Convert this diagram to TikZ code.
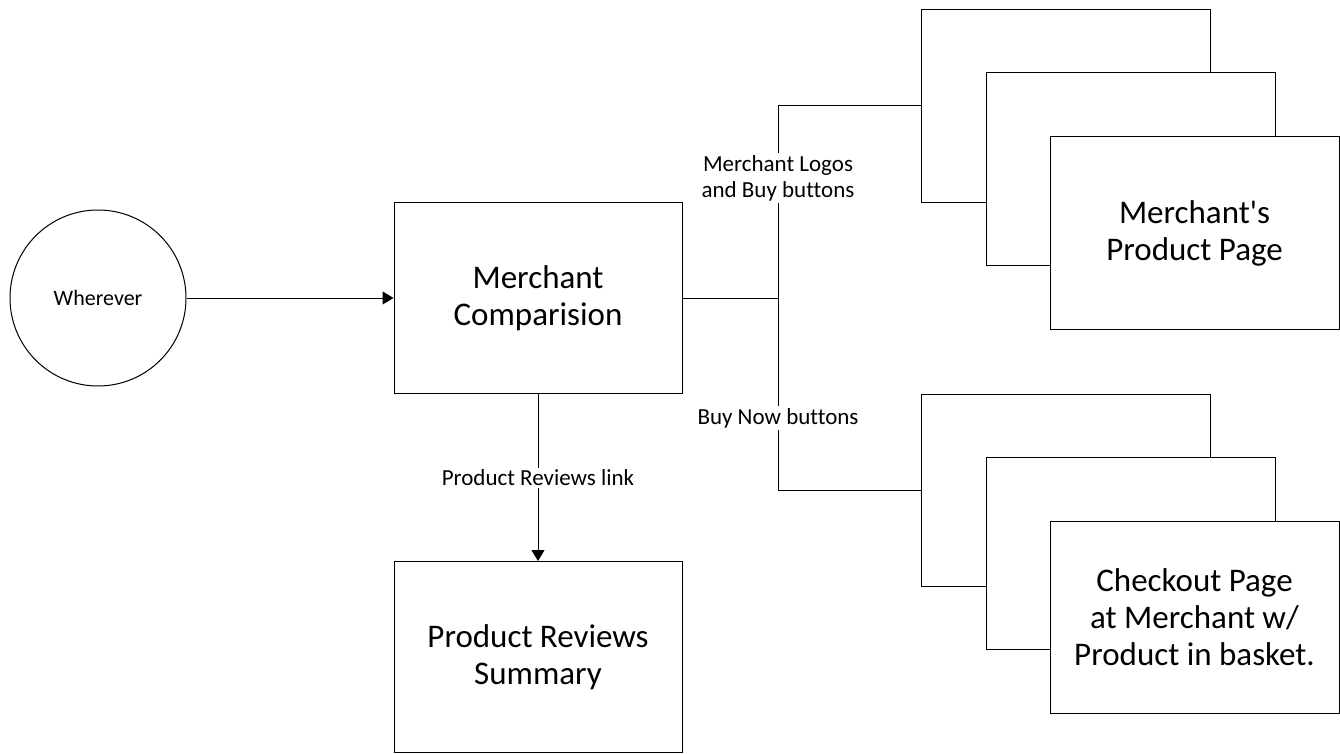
\documentclass[tikz,border=0pt]{standalone}
\usepackage{fontspec}
\setmainfont{Carlito}[Ligatures=NoCommon]
\usetikzlibrary{arrows.meta}
\begin{document}
\begin{tikzpicture}[x=1pt,y=-1pt,line width=1pt,
  box/.style={draw,fill=white,minimum width=288pt,minimum height=191pt,inner sep=0pt,align=center,font=\fontsize{33}{37}\selectfont},
  page/.style={box,minimum width=289pt,minimum height=192pt},
  lbl/.style={fill=white,inner sep=2pt,align=center,font=\fontsize{23}{26}\selectfont},
  arr/.style={-{Triangle[length=11pt,width=13pt]}}]
\useasboundingbox (0,0) rectangle (1340,754);
% nodes
\node[draw,circle,minimum size=176pt,inner sep=0pt,font=\fontsize{22}{25}\selectfont] (w) at (98,298) {Wherever};
\node[box] (mc) at (538,298) {Merchant\\Comparision};
\node[box] (prs) at (538,657) {Product Reviews\\Summary};
\node[page] (t1) at (1066,106) {};
\node[page] (t2) at (1131,169) {};
\node[page] (t3) at (1194.5,233) {Merchant\textquotesingle s\\Product Page};
\node[page] (b1) at (1066,490) {};
\node[page] (b2) at (1131,553) {};
\node[page] (b3) at (1194.5,617) {Checkout Page\\at Merchant w/\\Product in basket.};
% connectors
\coordinate (j) at (778,298);
\draw (mc.east) -- (j);
\draw (t1.west) -| (j) |- (b1.west);
\draw[arr] (w.east) -- (mc.west);
\draw[arr] (mc.south) -- (prs.north);
% labels
\node[lbl] (l1) at (778,178) {Merchant Logos\\and Buy buttons};
\node[lbl] (l2) at (778,418) {Buy Now buttons};
\node[lbl] (l3) at (538,478) {Product Reviews link};
\end{tikzpicture}
\end{document}
